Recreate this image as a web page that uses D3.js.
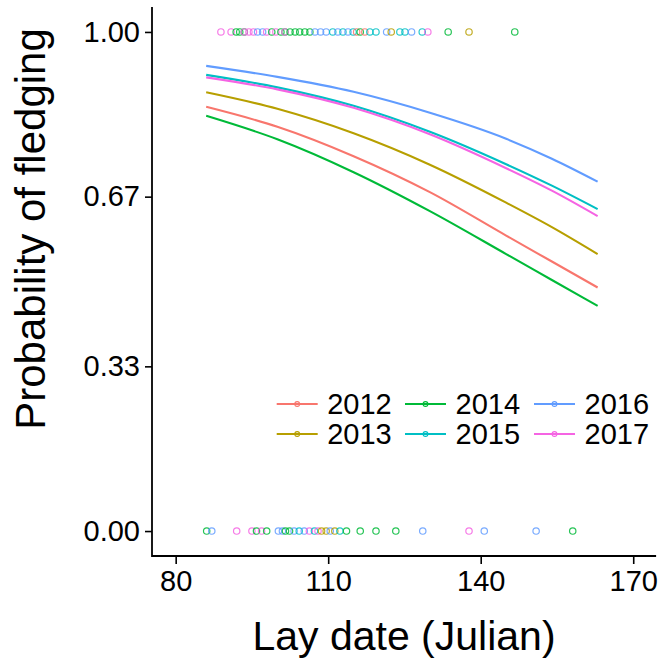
<!DOCTYPE html>
<html>
<head>
<meta charset="utf-8">
<script src="https://cdn.jsdelivr.net/npm/d3@7"></script>
<style>
  html, body { margin: 0; padding: 0; background: #fff; }
  svg { display: block; }
  text { font-family: "Liberation Sans", Arial, sans-serif; fill: #000; }
</style>
</head>
<body>
<svg id="chart" width="669" height="665"></svg>
<script>
// Breeding years and their colours
const years = [2012, 2013, 2014, 2015, 2016, 2017];
const yearColors = ["#F8766D", "#B79F00", "#00BA38", "#00BFC4", "#619CFF", "#F564E3"];

// Fitted probability of fledging by lay date, per year
const curveDays = [86, 100, 115, 130, 145, 154, 163];
const fit2012 = [0.850, 0.810, 0.751, 0.679, 0.592, 0.540, 0.488];
const fit2013 = [0.879, 0.846, 0.797, 0.734, 0.658, 0.609, 0.555];
const fit2014 = [0.832, 0.785, 0.719, 0.641, 0.555, 0.503, 0.451];
const fit2015 = [0.914, 0.889, 0.852, 0.800, 0.735, 0.692, 0.645];
const fit2016 = [0.932, 0.910, 0.880, 0.838, 0.786, 0.746, 0.700];
const fit2017 = [0.909, 0.885, 0.848, 0.795, 0.727, 0.682, 0.631];
const fits = [fit2012, fit2013, fit2014, fit2015, fit2016, fit2017];

// Nests that fledged (outcome 1)
const fledgedDays = [88.9, 90.9, 91.9, 92.6, 93.5, 93.5, 94.4, 95.3, 96.1, 97.1, 97.9, 98.9, 99.7, 100.7,
  101.5, 101.5, 102.5, 103.5, 104.4, 105.4, 106.4, 107.4, 108.5, 109.6, 110.9, 111.9, 112.9, 113.9,
  114.9, 115.6, 116.3, 117.2, 118.2, 119.4, 121.5, 122.4, 124.1, 125.1, 126.4, 128.5, 129.6, 133.6,
  137.7, 146.7];
const fledgedYears = [2017, 2017, 2014, 2014, 2014, 2017, 2017, 2017, 2016, 2016, 2017, 2014, 2017, 2014,
  2014, 2017, 2014, 2014, 2014, 2014, 2014, 2016, 2016, 2016, 2015, 2016, 2015, 2016,
  2015, 2012, 2014, 2012, 2015, 2015, 2016, 2013, 2015, 2015, 2016, 2015, 2017, 2014,
  2013, 2014];

// Nests that failed (outcome 0)
const failedDays = [86.1, 87.1, 92.0, 95.0, 95.9, 96.9, 97.9, 100.2, 101.0, 101.6, 102.4, 103.3, 104.3,
  105.3, 106.3, 107.3, 108.0, 108.7, 109.6, 110.4, 111.3, 112.3, 113.6, 116.3, 119.4, 123.3, 128.6,
  137.7, 140.7, 150.9, 158.1];
const failedYears = [2014, 2016, 2017, 2017, 2014, 2017, 2014, 2016, 2016, 2014, 2014, 2016, 2015,
  2016, 2017, 2015, 2017, 2013, 2013, 2016, 2013, 2015, 2014, 2014, 2014, 2014, 2016,
  2017, 2016, 2016, 2014];

// Axis ticks
const xTicks = [80, 110, 140, 170];
const yTicks = [0, 0.33, 0.67, 1];
const yTickLabels = ["0.00", "0.33", "0.67", "1.00"];

const svg = d3.select("#chart");
const colorOf = d3.scaleOrdinal().domain(years).range(yearColors);

const x = d3.scaleLinear().domain([75.5, 174.5]).range([152.8, 656.1]);
const y = d3.scaleLinear().domain([-0.05, 1.05]).range([556, 7]);

// Fitted curves
const line = d3.line()
  .x(d => x(d[0]))
  .y(d => y(d[1]))
  .curve(d3.curveMonotoneX);

const gLines = svg.append("g");
years.forEach((yr, i) => {
  gLines.append("path")
    .datum(curveDays.map((d, j) => [d, fits[i][j]]))
    .attr("d", line)
    .attr("fill", "none")
    .attr("stroke", colorOf(yr))
    .attr("stroke-width", 2.1);
});

// Raw nest outcomes
const pts = fledgedDays.map((d, i) => ({ day: d, year: fledgedYears[i], out: 1 }))
  .concat(failedDays.map((d, i) => ({ day: d, year: failedYears[i], out: 0 })));

svg.append("g").selectAll("circle")
  .data(pts)
  .join("circle")
  .attr("cx", d => x(d.day))
  .attr("cy", d => y(d.out))
  .attr("r", 3.2)
  .attr("fill", "none")
  .attr("stroke", d => colorOf(d.year))
  .attr("stroke-opacity", 0.85)
  .attr("stroke-width", 1.2);

// Axes
const xAxis = svg.append("g")
  .attr("transform", `translate(0,${556})`)
  .call(d3.axisBottom(x).tickValues(xTicks).tickSize(8).tickSizeOuter(0).tickPadding(6));
xAxis.select(".domain").attr("stroke", "#000").attr("stroke-width", 1.8)
  .attr("d", `M${152},0H${656.1}`);
xAxis.selectAll(".tick line").attr("stroke", "#000").attr("stroke-width", 1.6);
xAxis.selectAll(".tick text").attr("font-size", 29).attr("font-family", "Liberation Sans, Arial, sans-serif").attr("fill", "#000");

const yAxis = svg.append("g")
  .attr("transform", `translate(${152},0)`)
  .call(d3.axisLeft(y).tickValues(yTicks).tickFormat((d, i) => yTickLabels[i])
    .tickSize(7).tickSizeOuter(0).tickPadding(5));
yAxis.select(".domain").attr("stroke", "#000").attr("stroke-width", 1.8)
  .attr("d", `M0,${7}V${556.9}`);
yAxis.selectAll(".tick line").attr("stroke", "#000").attr("stroke-width", 1.6);
yAxis.selectAll(".tick text").attr("font-size", 29).attr("font-family", "Liberation Sans, Arial, sans-serif").attr("fill", "#000");

// Axis titles
svg.append("text")
  .attr("x", 404).attr("y", 650)
  .attr("text-anchor", "middle")
  .attr("font-size", 41)
  .text("Lay date (Julian)");

svg.append("text")
  .attr("transform", "translate(45,229) rotate(-90)")
  .attr("text-anchor", "middle")
  .attr("font-size", 42)
  .text("Probability of fledging");

// Legend: two rows, three columns
const legendCols = [276.7, 405, 534];
const legendRows = [404, 434];
const legend = svg.append("g");
years.forEach((yr, i) => {
  const cx = legendCols[Math.floor(i / 2)];
  const cy = legendRows[i % 2];
  const g = legend.append("g").attr("transform", `translate(${cx},${cy})`);
  g.append("line").attr("x1", 0).attr("x2", 41).attr("y1", 0).attr("y2", 0)
    .attr("stroke", colorOf(yr)).attr("stroke-width", 2.1);
  g.append("circle").attr("cx", 20.5).attr("cy", 0).attr("r", 2.4)
    .attr("fill", "none").attr("stroke", colorOf(yr)).attr("stroke-width", 1.1);
  g.append("text").attr("x", 50.5).attr("y", 10.3)
    .attr("font-size", 29).text(yr);
});
</script>
</body>
</html>
